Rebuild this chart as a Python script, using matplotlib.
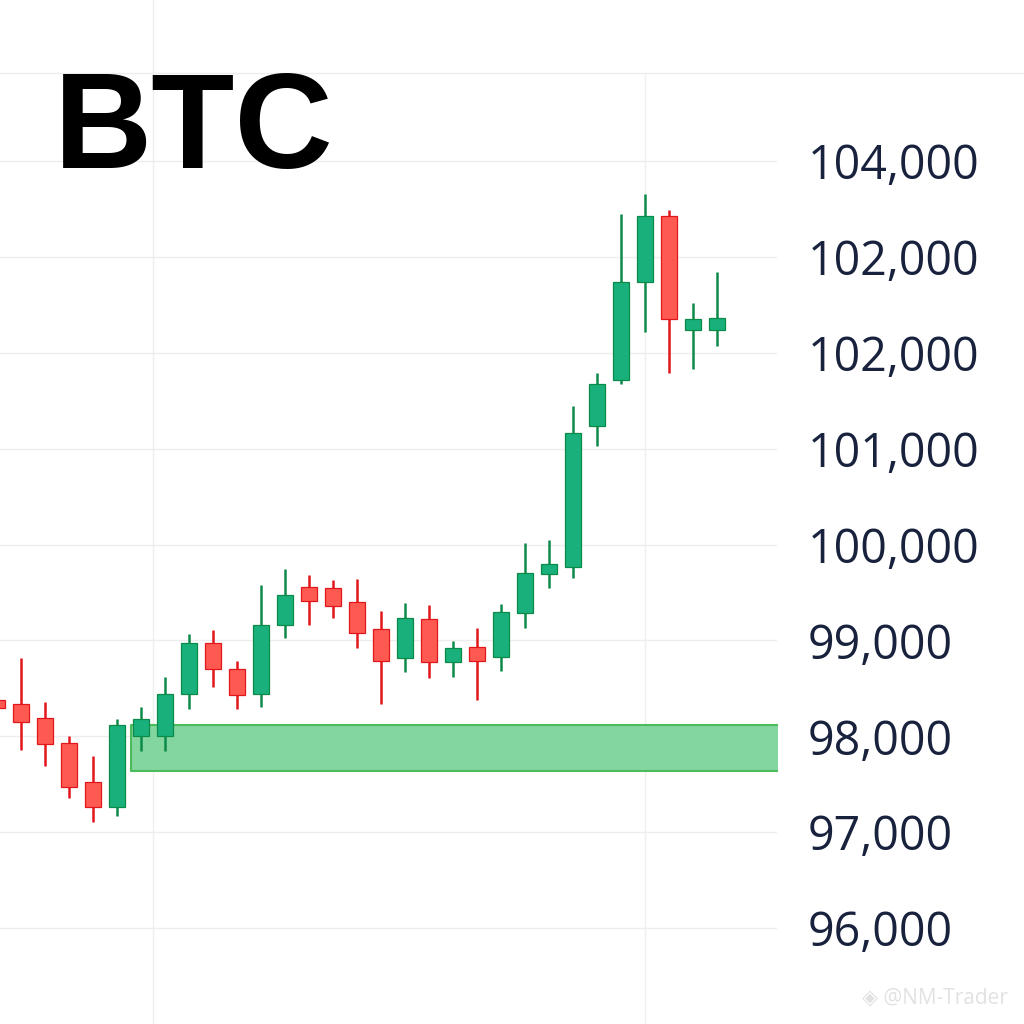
import numpy as np
import matplotlib.pyplot as plt
from matplotlib.lines import Line2D

# candle data, index 0 is the cut-off one at the left edge
opens  = [98380, 98340, 98190, 97930, 97520, 97260, 98000, 98000, 98440, 98970,
          98700, 98440, 99160, 99560, 99550, 99400, 99120, 98820, 99220, 98780,
          98930, 98830, 99290, 99690, 99770, 101240, 101720, 102740, 103430, 102240, 102240]
closes = [98300, 98150, 97920, 97470, 97260, 98120, 98180, 98440, 98970, 98700,
          98430, 99160, 99470, 99410, 99360, 99080, 98790, 99230, 98780, 98920,
          98790, 99300, 99700, 99800, 101160, 101680, 102740, 103430, 102350, 102350, 102360]
highs  = [98420, 98820, 98360, 98000, 97800, 98180, 98310, 98620, 99070, 99110,
          98790, 99580, 99750, 99680, 99630, 99640, 99310, 99390, 99370, 98990,
          99130, 99380, 100020, 100050, 101450, 101790, 103450, 103660, 103490, 102520, 102840]
lows   = [98260, 97860, 97690, 97360, 97110, 97170, 97850, 97850, 98290, 98520,
          98290, 98310, 99030, 99160, 99230, 98920, 98340, 98670, 98610, 98620,
          98380, 98680, 99130, 99550, 99650, 101030, 101680, 102220, 101790, 101830, 102070]

# support zone
zone_start = 5.6
zone_low = 97640
zone_high = 98120

tick_values = [96000, 97000, 98000, 99000, 100000, 101000, 102000, 103000, 104000]
tick_labels = ['96,000', '97,000', '98,000', '99,000', '100,000', '101,000',
               '102,000', '102,000', '104,000']

green_body, green_edge = '#19b07c', '#0b8a4a'
red_body, red_edge = '#ff5a52', '#e3161b'

fig = plt.figure(figsize=(10.24, 10.24), dpi=100)
ax = fig.add_axes([0, 0, 777 / 1024, 1])

x = np.arange(len(opens))
o = np.array(opens)
c = np.array(closes)
up = c >= o

ax.vlines(x[up], np.array(lows)[up], np.array(highs)[up], color=green_edge, lw=1.8, zorder=3)
ax.vlines(x[~up], np.array(lows)[~up], np.array(highs)[~up], color=red_edge, lw=1.8, zorder=3)
ax.bar(x[up], (c - o)[up], bottom=o[up], width=0.66, color=green_body,
       edgecolor=green_edge, linewidth=0.9, zorder=4)
ax.bar(x[~up], (o - c)[~up], bottom=c[~up], width=0.66, color=red_body,
       edgecolor=red_edge, linewidth=0.9, zorder=4)

ax.fill_between([zone_start, 40], zone_low, zone_high, facecolor='#82d69e',
                edgecolor='#4cbb5c', linewidth=1.5, zorder=2)

ax.set_xlim(0.125, 32.5)
ax.set_ylim(95000, 105680)

for v in tick_values:
    ax.axhline(v, color='#ededed', lw=1, zorder=0)
ax.axvline(6.5, color='#efefef', lw=1, zorder=0)
ax.axvline(27, color='#efefef', lw=1, ymax=1 - 73 / 1024, zorder=0)

ax.yaxis.tick_right()
ax.set_yticks(tick_values)
ax.set_yticklabels(tick_labels, fontsize=33.5, family='Open Sans', color='#18223d')
ax.tick_params(axis='y', length=0, pad=22)
ax.set_xticks([])
for s in ax.spines.values():
    s.set_visible(False)

fig.add_artist(Line2D([0, 1], [1 - 73 / 1024] * 2, color='#ededed', lw=1))

fig.text(54 / 1024, 1 - 133 / 1024, 'BTC', fontsize=98, fontweight='bold',
         family='Liberation Sans', va='center', ha='left', color='black')

fig.text(1008 / 1024, 1 - 998 / 1024, '◈ @NM-Trader', fontsize=15, ha='right', va='center',
         color='#e2e2e2', family=['Open Sans', 'DejaVu Sans'])

fig.savefig('out.png', dpi=100)
